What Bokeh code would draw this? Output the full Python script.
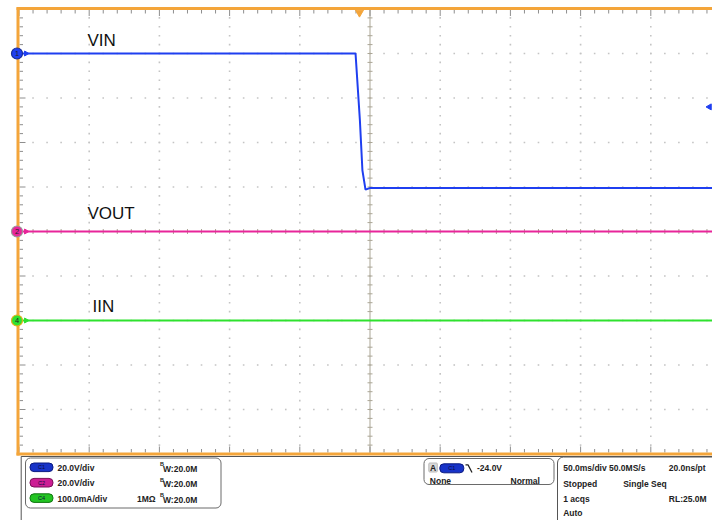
import numpy as np
from bokeh.plotting import figure
from bokeh.models import Range1d, BoxAnnotation
from bokeh.core.properties import value
from bokeh.embed import file_html
from bokeh.resources import INLINE

# ---------------- data (scope settings and traces) ----------------
ms_per_div = 50.0
trig_pos_div = 4.85          # trigger position, divisions from left edge
trig_level_v = -24.0

ch1_v_per_div, ch1_pos = 20.0, 4.0
ch2_v_per_div, ch2_pos = 20.0, 0.0
ch4_ma_per_div, ch4_pos = 100.0, -2.0

vin_t = [-242.5, -2.8, 0.3, 2.1, 4.3, 7.8, 257.5]      # ms
vin_v = [0.0, 0.0, -30.0, -52.5, -61.2, -60.4, -60.4]  # V
vout_t = [-242.5, 257.5]
vout_v = [0.0, 0.0]
iin_t = [-242.5, 257.5]
iin_ma = [0.0, 0.0]

trace_labels = ["VIN", "VOUT", "IIN"]
ch_names = ["1", "2", "4"]

info_rows = ["20.0V/div", "20.0V/div", "100.0mA/div"]
info_bw = "W:20.0M"
trig_text = "-24.0V"
status_lines = [("50.0ms/div 50.0MS/s", "20.0ns/pt"), ("Stopped", "Single Seq"),
                ("1 acqs", "RL:25.0M"), ("Auto", "")]

# ---------------- layout helpers (reference pixel -> data) ----------------
GX0, GY0, DX, DY = 18.5, 8.5, 70.2, 44.5
TRIG_PX = GX0 + trig_pos_div * DX


def X(px):
    return (px - TRIG_PX) / DX * ms_per_div


def Y(py):
    return (GY0 + 5 * DY - py) / DY


def dxpx(n):
    return n / DX * ms_per_div


def dypx(n):
    return n / DY


BLUE, PINK, GREEN = "#1f3ff0", "#e8259a", "#2ee22e"
ORANGE = "#f4a53a"
FONT = value("Liberation Sans")

p = figure(width=712, height=520, output_backend="svg", toolbar_location=None,
           x_range=Range1d(X(0), X(712)), y_range=Range1d(Y(520), Y(0)),
           x_axis_location=None, y_axis_location=None, min_border=0)
p.grid.visible = False
p.outline_line_color = None
p.background_fill_color = "white"

left_t = -trig_pos_div * ms_per_div
right_t = left_t + 10 * ms_per_div
center_t = left_t + 5 * ms_per_div

# ---------------- graticule dots ----------------
gx, gy = [], []
for row in range(-4, 5):
    if row == 0:
        continue
    for k in range(1, 50):
        gx.append(left_t + k * ms_per_div / 5)
        gy.append(row)
for col in range(1, 10):
    if col == 5:
        continue
    for k in range(1, 50):
        gx.append(left_t + col * ms_per_div)
        gy.append(-5 + k * 0.2)
p.scatter(gx, gy, marker="square", size=1.6, color="#c4c4c4", line_color=None)

# center cross
p.segment([center_t, left_t], [-5, 0], [center_t, right_t], [5, 0],
          line_color="#aaa595", line_width=1)
tx0, ty0, tx1, ty1 = [], [], [], []
for k in range(1, 50):
    yy = -5 + k * 0.2
    tx0.append(center_t - dxpx(2.5)); tx1.append(center_t + dxpx(2.5))
    ty0.append(yy); ty1.append(yy)
    xx = left_t + k * ms_per_div / 5
    tx0.append(xx); tx1.append(xx)
    ty0.append(-dypx(2.5)); ty1.append(dypx(2.5))
p.segment(tx0, ty0, tx1, ty1, line_color="#aaa595", line_width=1)

# border ticks
bx0, by0, bx1, by1 = [], [], [], []
for k in range(0, 51):
    ln = 6 if k % 5 == 0 else 3.5
    xx = left_t + k * ms_per_div / 5
    bx0 += [xx, xx]; bx1 += [xx, xx]
    by0 += [Y(9.5), Y(452)]; by1 += [Y(9.5 + ln), Y(452 - ln)]
    yy = -5 + k * 0.2
    bx0.append(X(19)); bx1.append(X(19 + ln))
    by0.append(yy); by1.append(yy)
p.segment(bx0, by0, bx1, by1, line_color="#8e8e8e", line_width=1)

# orange frame
p.segment([X(16), X(17.5), X(16)], [Y(8), Y(7), Y(453.5)],
          [X(712), X(17.5), X(712)], [Y(8), Y(455), Y(453.5)],
          line_color=ORANGE, line_width=3)

# ---------------- traces ----------------
vin_div = [v / ch1_v_per_div + ch1_pos for v in vin_v]
vout_div = [v / ch2_v_per_div + ch2_pos for v in vout_v]
iin_div = [i / ch4_ma_per_div + ch4_pos for i in iin_ma]
p.line(vout_t, vout_div, line_color=PINK, line_width=2)
p.line(iin_t, iin_div, line_color=GREEN, line_width=2)
p.line(vin_t, vin_div, line_color=BLUE, line_width=2)

# trace labels
lab_x = [X(87), X(87), X(92)]
lab_y = [Y(39.5), Y(212.5), Y(306)]
p.text(lab_x, lab_y, text=trace_labels, text_font=FONT, text_font_size="17px",
       text_color="#111111", text_baseline="alphabetic")

# channel ground markers
offsets = [ch1_pos, ch2_pos, ch4_pos]
cols = [BLUE, PINK, GREEN]
outl = ["#1a2f9a", "#9a9a9a", "#e2b21e"]
p.scatter([X(25.5)] * 3, offsets, marker="triangle", angle=-np.pi / 2, size=5,
          color=cols)
p.scatter([X(16.5)] * 3, offsets, marker="circle", size=11, fill_color=cols,
          line_color=outl, line_width=1.2)
p.text([X(16.5)] * 3, offsets, text=ch_names, text_font=FONT, text_font_size="7.5px",
       text_color="#222222", text_align="center", text_baseline="middle")

# trigger position and level markers
p.scatter([0.0], [Y(12)], marker="inverted_triangle", size=8, color=ORANGE)
p.scatter([X(709)], [trig_level_v / ch1_v_per_div + ch1_pos], marker="triangle",
          angle=np.pi / 2, size=6, color=BLUE)

# ---------------- bottom info panel ----------------
p.segment([X(20.7), X(20.7)], [Y(456), Y(456)], [X(712), X(20.7)], [Y(456), Y(520)],
          line_color="#555555", line_width=1)


def box(l, r, t, b, rad, fill=None, line="#6a6a6a", lw=1):
    p.add_layout(BoxAnnotation(left=X(l), right=X(r), top=Y(t), bottom=Y(b),
                               border_radius=int(rad), level="underlay",
                               fill_color=fill if fill else "white",
                               fill_alpha=1 if fill else 0,
                               line_color=line, line_width=lw, line_alpha=1))


box(25, 220.5, 457.5, 507.5, 5)
box(423.5, 553.5, 458, 484, 5)
box(557, 760, 456.5, 540, 6, line="#555555")

BOLD = dict(text_font=FONT, text_font_style="bold", text_font_size="8.5px",
            text_color="#222222", text_baseline="alphabetic")
SH = 3.0  # baseline correction

pill_cols = [("#1733c8", "#0b1a80", "C1"), ("#cc1f94", "#7a1058", "C2"),
             ("#22c422", "#117711", "C4")]
row_base = [470 - SH, 485.5 - SH, 501 - SH]
row_mid = [466.8, 482.2, 497.6]
for (fc, lc, nm), yb, ym, txt in zip(pill_cols, row_base, row_mid, info_rows):
    box(29.5, 52.5, ym - 4.3, ym + 4.3, 4, fill=fc, line=lc)
    p.text([X(41)], [Y(ym)], text=[nm], text_font=FONT, text_font_size="5.5px",
           text_color="#0c0c40", text_align="center", text_baseline="middle")
    p.text([X(57)], [Y(yb)], text=[txt], **BOLD)
    p.text([X(159.5)], [Y(yb - 3.2)], text=["B"],
           text_font=FONT, text_font_style="bold", text_font_size="5.5px",
           text_color="#222222", text_baseline="alphabetic")
    p.text([X(162.5)], [Y(yb + 1.0)], text=[info_bw], **BOLD)
p.text([X(136.5)], [Y(row_base[2])], text=["1MΩ"], **BOLD)

# trigger box
box(428.3, 436.8, 462.5, 471.5, 1, fill="#d9d9d9", line="#bbbbbb")
p.text([X(432.5)], [Y(470.3 - SH)], text=["A"], text_align="center", **BOLD)
box(439.3, 463.3, 463.3, 472.3, 4, fill="#1733c8", line="#0b1a80")
p.text([X(451.3)], [Y(467.8)], text=["C1"], text_font=FONT, text_font_size="5.5px",
       text_color="#0c0c40", text_align="center", text_baseline="middle")
p.line([X(465), X(467.5), X(471.5)], [Y(464.3), Y(464.3), Y(472)],
       line_color="#222222", line_width=1.3)
p.text([X(476.5)], [Y(470 - SH)], text=[trig_text], **BOLD)
p.text([X(429.3)], [Y(483.2 - SH)], text=["None"], **BOLD)
p.text([X(510)], [Y(483.2 - SH)], text=["Normal"], **BOLD)

# status box
st_base = [470 - SH, 486 - SH, 501.6 - SH, 515 - SH]
st_x2 = [668.3, 622.7, 668.3, 668.3]
for (a, b), yb, x2 in zip(status_lines, st_base, st_x2):
    p.text([X(562.7)], [Y(yb)], text=[a], **BOLD)
    if b:
        p.text([X(x2)], [Y(yb)], text=[b], **BOLD)

open("out.html", "w").write(file_html(p, INLINE))
